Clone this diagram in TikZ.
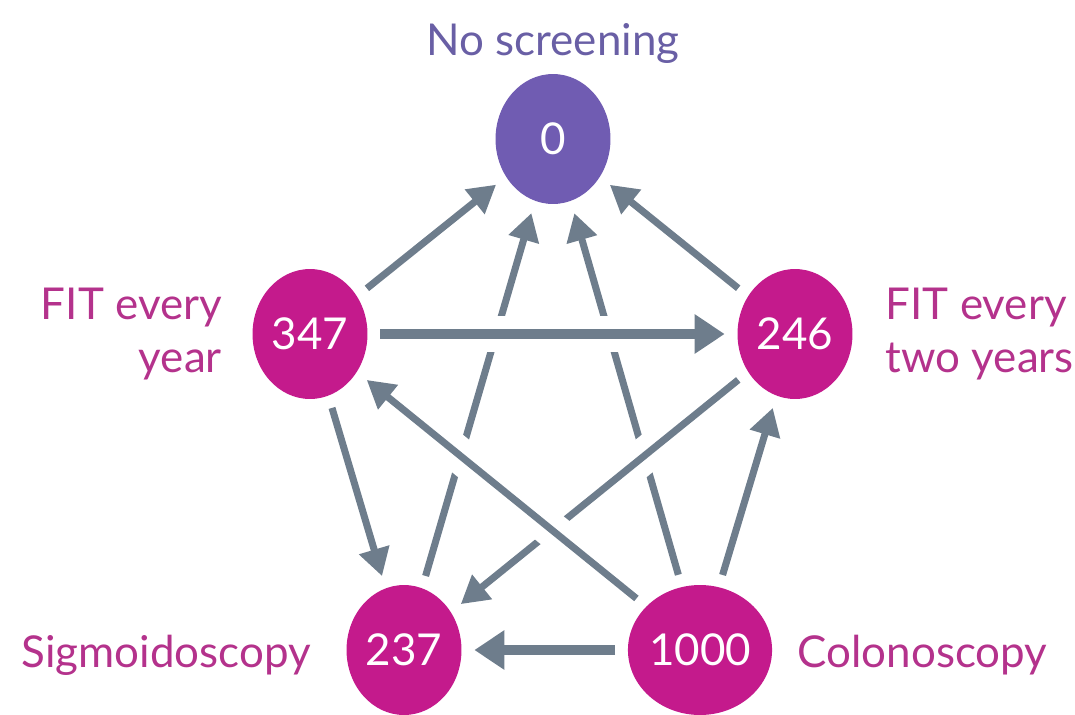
\documentclass[tikz,border=0pt]{standalone}
\usepackage{fontspec}
\setmainfont{Lato}
\usetikzlibrary{shapes.geometric, positioning, arrows.meta, calc}
\definecolor{screenpurple}{RGB}{112,92,178}
\definecolor{screenpink}{RGB}{196,26,140}
\definecolor{labelpink}{RGB}{180,50,140}
\definecolor{labelpurple}{RGB}{105,95,165}
\definecolor{arrowgray}{RGB}{110,125,140}

\begin{document}
\begin{tikzpicture}[x=0.02cm, y=-0.02cm,
    test/.style={ellipse, fill=screenpink, text=white, minimum width=2.3cm,
        minimum height=2.6cm, inner sep=0pt, font=\fontsize{25}{30}\selectfont},
    lbl/.style={text=labelpink, inner sep=0pt, font=\fontsize{25}{30}\selectfont},
    arr/.style={arrowgray, line width=4pt, -{Triangle[length=0.55cm, width=0.6cm]},
        shorten >=0.25cm, shorten <=0.25cm},
    bigarr/.style={arr, line width=6pt, -{Triangle[length=0.6cm, width=0.75cm]}},
    gap/.style={white, line width=0.72cm}]
    \useasboundingbox (0,0) rectangle (1075,714);

    \node[test, fill=screenpurple] (n0) at (553,139) {0};
    \node[test] (n347) at (310,334) {347};
    \node[test] (n246) at (795,334) {246};
    \node[test] (n237) at (404,650) {237};
    \node[test] (n1000) at (700,650) {1000};

    \node[lbl, text=labelpurple, above=2mm of n0] (lnone) {No screening};
    \node[lbl, align=right, left=6mm of n347] (lfit1) {FIT every\\year};
    \node[lbl, align=left, right=6.5mm of n246] (lfit2) {FIT every\\two years};
    \node[lbl, left=7mm of n237, yshift=-3pt] (lsig) {Sigmoidoscopy};
    \node[lbl, right=5mm of n1000, yshift=-3pt] (lcol) {Colonoscopy};

    \path[arr]
    (n347) edge (n0)
    (n246) edge (n0)
    (n237) edge (n0)
    (n1000) edge (n0)
    (n347) edge (n237)
    (n1000) edge (n246)
    ;
    \path[bigarr] (n1000) edge (n237);

    % white gaps where lines cross
    \draw[gap] ($(n246)!.28!(n237)$) -- ($(n246)!.5!(n237)$);
    \path[arr] (n246) edge (n237);
    \draw[gap] ($(n1000)!.3!(n347)$) -- ($(n1000)!.7!(n347)$);
    \path[arr] (n1000) edge (n347);
    \draw[gap] ($(n347)!.3!(n246)$) -- ($(n347)!.7!(n246)$);
    \path[bigarr] (n347) edge (n246);
\end{tikzpicture}
\end{document}
